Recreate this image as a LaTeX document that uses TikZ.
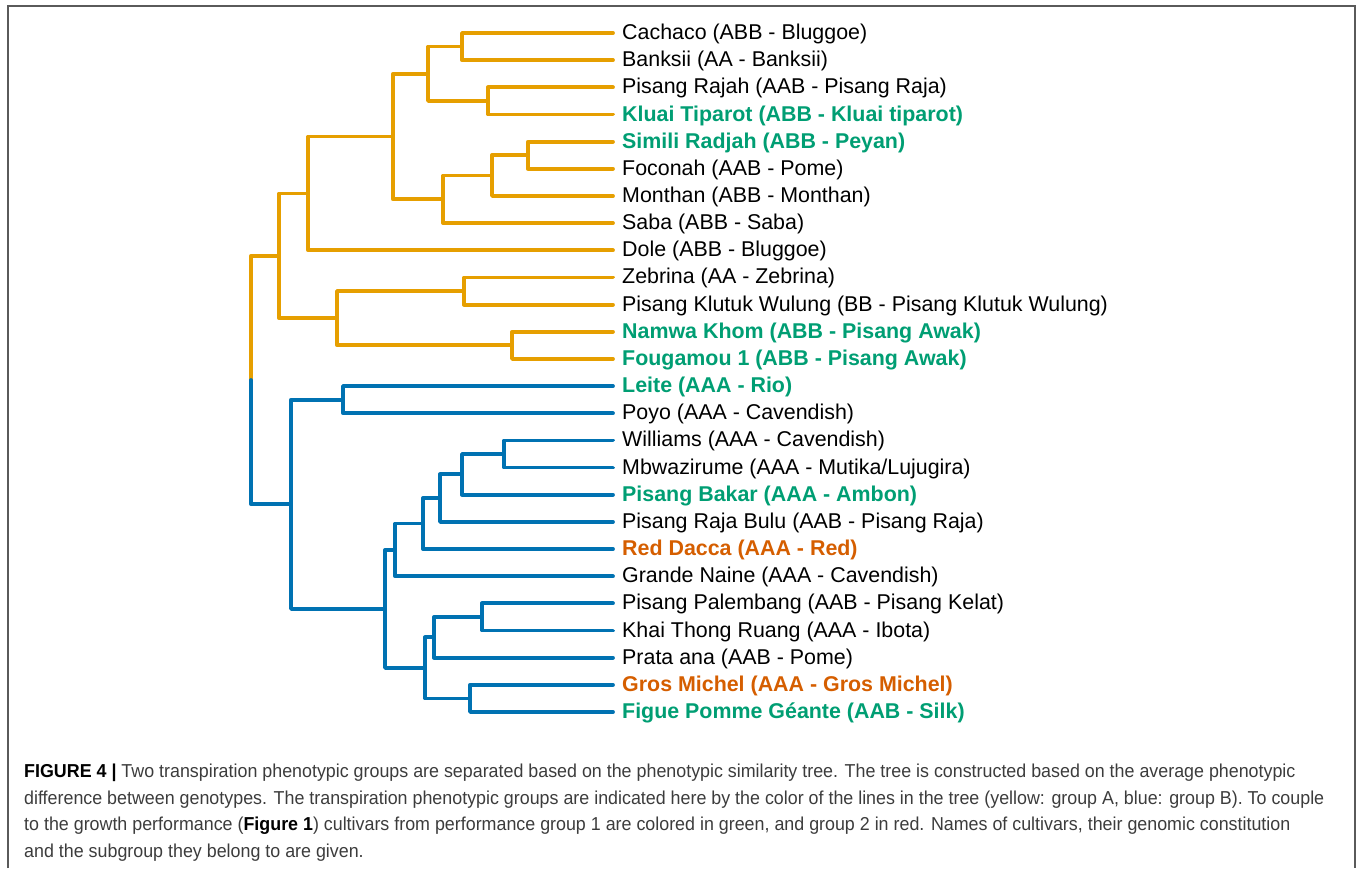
\documentclass[tikz,border=0pt]{standalone}
\usepackage{fontspec}
\setmainfont{Liberation Sans}
\newfontfamily\capfont[FakeStretch=0.955]{Liberation Sans}
\definecolor{grpA}{HTML}{E69F00}
\definecolor{grpB}{HTML}{0072B2}
\definecolor{perfG}{HTML}{009E73}
\definecolor{perfR}{HTML}{D55E00}
\definecolor{capgray}{HTML}{3C3C3C}
\definecolor{framegray}{HTML}{5A5A5A}
\tikzset{
  branchA/.style={draw=grpA, line width=3.8pt, line cap=round, line join=round},
  branchB/.style={draw=grpB, line width=3.8pt, line cap=round, line join=round},
  leaflab/.style={anchor=west, inner sep=0pt, font=\fontsize{21.4}{24}\selectfont, text=black},
  leafG/.style={leaflab, text=perfG, font=\fontsize{21.4}{24}\selectfont\bfseries},
  leafR/.style={leaflab, text=perfR, font=\fontsize{21.4}{24}\selectfont\bfseries},
  capline/.style={anchor=base west, inner sep=0pt, text=capgray, font=\capfont\fontsize{18.7}{22}\selectfont},
  frameline/.style={draw=framegray, line width=1.5pt}
}
\newcommand{\LY}[1]{33+27.16*(#1)}
\begin{document}
\begin{tikzpicture}[x=1pt,y=-1pt]
\useasboundingbox (0,0) rectangle (1360,868);
% frame
\coordinate (fbl) at (8,868);
\coordinate (ftl) at (8,6);
\coordinate (ftr) at (1355,6);
\coordinate (fbr) at (1355,868);
\draw[frameline] (fbl) -- (ftl) -- (ftr) -- (fbr);

% leaf end points and labels
\foreach \i in {0,...,25} {\coordinate (l\i) at (613,{\LY{\i}});}
\node[leaflab] (t0)  at (622,{\LY{0}+1})  {Cachaco (ABB - Bluggoe)};
\node[leaflab] (t1)  at (622,{\LY{1}+1})  {Banksii (AA - Banksii)};
\node[leaflab] (t2)  at (622,{\LY{2}+1})  {Pisang Rajah (AAB - Pisang Raja)};
\node[leafG]   (t3)  at (622,{\LY{3}+1})  {Kluai Tiparot (ABB - Kluai tiparot)};
\node[leafG]   (t4)  at (622,{\LY{4}+1})  {Simili Radjah (ABB - Peyan)};
\node[leaflab] (t5)  at (622,{\LY{5}+1})  {Foconah (AAB - Pome)};
\node[leaflab] (t6)  at (622,{\LY{6}+1})  {Monthan (ABB - Monthan)};
\node[leaflab] (t7)  at (622,{\LY{7}+1})  {Saba (ABB - Saba)};
\node[leaflab] (t8)  at (622,{\LY{8}+1})  {Dole (ABB - Bluggoe)};
\node[leaflab] (t9)  at (622,{\LY{9}+1})  {Zebrina (AA - Zebrina)};
\node[leaflab] (t10) at (622,{\LY{10}+1}) {Pisang Klutuk Wulung (BB - Pisang Klutuk Wulung)};
\node[leafG]   (t11) at (622,{\LY{11}+1}) {Namwa Khom (ABB - Pisang Awak)};
\node[leafG]   (t12) at (622,{\LY{12}+1}) {Fougamou 1 (ABB - Pisang Awak)};
\node[leafG]   (t13) at (622,{\LY{13}+1}) {Leite (AAA - Rio)};
\node[leaflab] (t14) at (622,{\LY{14}+1}) {Poyo (AAA - Cavendish)};
\node[leaflab] (t15) at (622,{\LY{15}+1}) {Williams (AAA - Cavendish)};
\node[leaflab] (t16) at (622,{\LY{16}+1}) {Mbwazirume (AAA - Mutika/Lujugira)};
\node[leafG]   (t17) at (622,{\LY{17}+1}) {Pisang Bakar (AAA - Ambon)};
\node[leaflab] (t18) at (622,{\LY{18}+1}) {Pisang Raja Bulu (AAB - Pisang Raja)};
\node[leafR]   (t19) at (622,{\LY{19}+1}) {Red Dacca (AAA - Red)};
\node[leaflab] (t20) at (622,{\LY{20}+1}) {Grande Naine (AAA - Cavendish)};
\node[leaflab] (t21) at (622,{\LY{21}+1}) {Pisang Palembang (AAB - Pisang Kelat)};
\node[leaflab] (t22) at (622,{\LY{22}+1}) {Khai Thong Ruang (AAA - Ibota)};
\node[leaflab] (t23) at (622,{\LY{23}+1}) {Prata ana (AAB - Pome)};
\node[leafR]   (t24) at (622,{\LY{24}+1}) {Gros Michel (AAA - Gros Michel)};
\node[leafG]   (t25) at (622,{\LY{25}+1}) {Figue Pomme Géante (AAB - Silk)};

% internal nodes, group A
\coordinate (n1)  at (462,{\LY{0.5}});
\coordinate (n2)  at (488,{\LY{2.5}});
\coordinate (n3)  at (428,{\LY{1.5}});
\coordinate (n4)  at (528,{\LY{4.5}});
\coordinate (n5)  at (492,{\LY{5.25}});
\coordinate (n6)  at (443,{\LY{6.125}});
\coordinate (n7)  at (393,{\LY{3.8125}});
\coordinate (n8)  at (308,{\LY{5.90625}});
\coordinate (n9)  at (464,{\LY{9.5}});
\coordinate (n10) at (512,{\LY{11.5}});
\coordinate (n11) at (337,{\LY{10.5}});
\coordinate (n12) at (279,{\LY{8.203125}});
% internal nodes, group B
\coordinate (b1)  at (343,{\LY{13.5}});
\coordinate (b2)  at (504,{\LY{15.5}});
\coordinate (b3)  at (462,{\LY{16.25}});
\coordinate (b4)  at (440,{\LY{17.125}});
\coordinate (b5)  at (423,{\LY{18.0625}});
\coordinate (b6)  at (395,{\LY{19.03125}});
\coordinate (b7)  at (482,{\LY{21.5}});
\coordinate (b8)  at (434,{\LY{22.25}});
\coordinate (b9)  at (470,{\LY{24.5}});
\coordinate (b10) at (425,{\LY{23.375}});
\coordinate (b11) at (385,{\LY{21.203125}});
\coordinate (b12) at (291,{\LY{17.3515625}});
\coordinate (root) at (251,{\LY{12.77734375}});

% group A branches
\draw[branchA] (l0) -| (n1) |- (l1);
\draw[branchA] (l2) -| (n2) |- (l3);
\draw[branchA] (n1) -| (n3) |- (n2);
\draw[branchA] (l4) -| (n4) |- (l5);
\draw[branchA] (n4) -| (n5) |- (l6);
\draw[branchA] (n5) -| (n6) |- (l7);
\draw[branchA] (n3) -| (n7) |- (n6);
\draw[branchA] (n7) -| (n8) |- (l8);
\draw[branchA] (l9) -| (n9) |- (l10);
\draw[branchA] (l11) -| (n10) |- (l12);
\draw[branchA] (n9) -| (n11) |- (n10);
\draw[branchA] (n8) -| (n12) |- (n11);
\draw[branchA] (n12) -| (root);
% group B branches
\draw[branchB] (l13) -| (b1) |- (l14);
\draw[branchB] (l15) -| (b2) |- (l16);
\draw[branchB] (b2) -| (b3) |- (l17);
\draw[branchB] (b3) -| (b4) |- (l18);
\draw[branchB] (b4) -| (b5) |- (l19);
\draw[branchB] (b5) -| (b6) |- (l20);
\draw[branchB] (l21) -| (b7) |- (l22);
\draw[branchB] (b7) -| (b8) |- (l23);
\draw[branchB] (l24) -| (b9) |- (l25);
\draw[branchB] (b8) -| (b10) |- (b9);
\draw[branchB] (b6) -| (b11) |- (b10);
\draw[branchB] (b1) -| (b12) |- (b11);
\draw[branchB] (b12) -| (root);

% caption
\node[capline] (c1) at (24,777) {{\bfseries\color{black}FIGURE 4 |} Two transpiration phenotypic groups are separated based on the phenotypic similarity tree. The tree is constructed based on the average phenotypic};
\node[capline] (c2) at (24,804) {difference between genotypes. The transpiration phenotypic groups are indicated here by the color of the lines in the tree (yellow: group A, blue: group B). To couple};
\node[capline] (c3) at (24,830) {to the growth performance ({\bfseries\color{black}Figure 1}) cultivars from performance group 1 are colored in green, and group 2 in red. Names of cultivars, their genomic constitution};
\node[capline] (c4) at (24,857) {and the subgroup they belong to are given.};
\end{tikzpicture}
\end{document}
